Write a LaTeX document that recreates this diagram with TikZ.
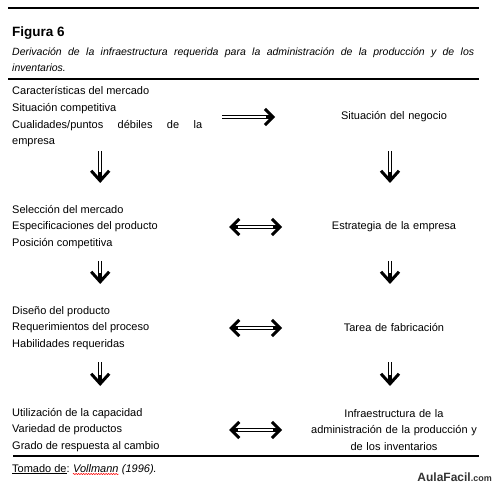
\documentclass[tikz,border=0pt]{standalone}
\usepackage{fontspec}
\setmainfont{Liberation Sans}
\usetikzlibrary{arrows.meta,decorations.pathmorphing}

\tikzset{
  txt/.style={inner sep=0pt, font=\fontsize{11}{16.7}\selectfont},
  lbox/.style={txt, anchor=west, text width=190pt, align=justify},
  rbox/.style={txt, text width=180pt, align=center},
  rule/.style={line width=2pt},
  barb/.tip={Straight Barb[length=8pt, width=16pt, line width=3pt]},
  dnbarb/.tip={Straight Barb[length=10pt, width=18pt, line width=3pt]},
  core/.style={postaction={draw=white, line width=1.8pt, -, #1}},
  rarrow/.style={line width=3.8pt, -{barb}, shorten <=115pt, shorten >=119pt,
    core={shorten <=115pt, shorten >=128pt}},
  lrarrow/.style={line width=3.8pt, {barb}-{barb}, shorten <=122pt, shorten >=112pt,
    core={shorten <=131pt, shorten >=121pt}},
  dnarrow/.style={line width=3.8pt, -{dnbarb}, shorten <=34pt, shorten >=44pt,
    core={shorten <=34pt, shorten >=55pt}}
}

\begin{document}
\begin{tikzpicture}[x=1pt, y=-1pt]
  \useasboundingbox (0,0) rectangle (496,484);

  % rules and heading
  \draw[rule] (8,8) -- (479,8);
  \draw[rule] (8,79) -- (479,79);
  \draw[rule] (13,456) -- (479,456);
  \node[anchor=west, inner sep=0pt, font=\fontsize{13.5}{16}\selectfont\bfseries] (fig) at (12,33) {Figura 6};
  \node[anchor=north west, inner sep=0pt, text width=462pt, align=justify,
        font=\fontsize{10.5}{16}\selectfont\itshape] (cap) at (12,48)
    {Derivación de la infraestructura requerida para la administración de la producción y de los\linebreak inventarios.};

  % left column
  \node[lbox] (mkt) at (12,117) {Características del mercado\\ Situación competitiva\\
    Cualidades/puntos débiles de la\linebreak empresa};
  \node[lbox] (sel) at (12,227) {Selección del mercado\\ Especificaciones del producto\\ Posición competitiva};
  \node[lbox] (des) at (12,328) {Diseño del producto\\ Requerimientos del proceso\\ Habilidades requeridas};
  \node[lbox] (cap4) at (12,430) {Utilización de la capacidad\\ Variedad de productos\\ Grado de respuesta al cambio};

  % right column
  \node[rbox] (neg) at (394,117) {Situación del negocio};
  \node[rbox] (est) at (394,227) {Estrategia de la empresa};
  \node[rbox] (fab) at (394,328) {Tarea de fabricación};
  \node[rbox] (inf) at (394,430) {Infraestructura de la\\ administración de la producción y\\ de los inventarios};

  % arrows
  \draw[rarrow] (mkt.center) -- (neg.center);
  \draw[lrarrow] (sel.center) -- (est.center);
  \draw[lrarrow] (des.center) -- (fab.center);
  \draw[lrarrow] (cap4.center) -- (inf.center);

  \draw[dnarrow] ([xshift=-7pt]mkt.center) -- ([xshift=-7pt]sel.center);
  \draw[dnarrow] ([xshift=-7pt]sel.center) -- ([xshift=-7pt]des.center);
  \draw[dnarrow] ([xshift=-7pt]des.center) -- ([xshift=-7pt]cap4.center);
  \draw[dnarrow] ([xshift=-4pt]neg.center) -- ([xshift=-4pt]est.center);
  \draw[dnarrow] ([xshift=-4pt]est.center) -- ([xshift=-4pt]fab.center);
  \draw[dnarrow] ([xshift=-4pt]fab.center) -- ([xshift=-4pt]inf.center);

  % source
  \node[txt, anchor=base west] (src) at (12,472) {\underline{Tomado de}:};
  \node[txt, anchor=base west, font=\fontsize{11}{16.7}\selectfont\itshape] (auth) at ([xshift=3pt]src.base east) {Vollmann};
  \node[txt, anchor=base west, font=\fontsize{11}{16.7}\selectfont\itshape] (year) at ([xshift=3pt]auth.base east) {(1996).};
  \draw[red, line width=0.5pt, decorate, decoration={snake, amplitude=0.6pt, segment length=2.5pt}]
    ([yshift=-2pt]auth.base west) -- ([yshift=-2pt]auth.base east);

  \node[anchor=base east, inner sep=0pt, text=black!80] (logo) at (492,481)
    {\fontsize{12}{14}\selectfont\bfseries AulaFacil\fontsize{9}{14}\selectfont.com};
\end{tikzpicture}
\end{document}
